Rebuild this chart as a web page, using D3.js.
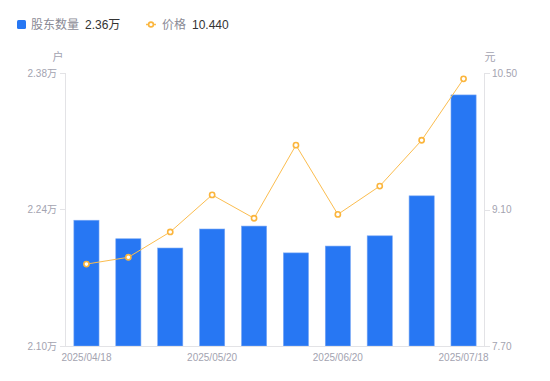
<!DOCTYPE html>
<html><head><meta charset="utf-8">
<script src="https://cdn.jsdelivr.net/npm/d3@7/dist/d3.min.js"></script>
<style>body{margin:0;background:#fff;} svg{font-family:"Liberation Sans","Noto Sans CJK SC",sans-serif;}</style>
</head><body><svg id="c" width="550" height="381"></svg>
<script>
const dates = ["2025/04/18","2025/04/30","2025/05/09","2025/05/20","2025/05/30","2025/06/10","2025/06/20","2025/06/30","2025/07/10","2025/07/18"];
const holders = [2.229, 2.210, 2.2005, 2.220, 2.223, 2.1955, 2.2025, 2.213, 2.254, 2.3575];
const prices = [8.54, 8.61, 8.87, 9.25, 9.01, 9.76, 9.05, 9.34, 9.81, 10.44];
const leftTicks = [2.10, 2.24, 2.38];
const rightTicks = [7.70, 9.10, 10.50];
const shownDates = ["2025/04/18","2025/05/20","2025/06/20","2025/07/18"];

const svg = d3.select("#c");
const L = 65.5, R = 484.5, T = 73, B = 346;
const x = d3.scaleBand().domain(dates).range([L, R]).paddingInner(0.4).paddingOuter(0.2);
const yL = d3.scaleLinear().domain([2.10, 2.38]).range([B, T]);
const yR = d3.scaleLinear().domain([7.70, 10.50]).range([B, T]);
const axisCol = "#e3e3e6", tickTxt = "#a3a3b0";

svg.append("line").attr("x1", L).attr("x2", L).attr("y1", T).attr("y2", B).attr("stroke", axisCol);
svg.append("line").attr("x1", R).attr("x2", R).attr("y1", T).attr("y2", B).attr("stroke", axisCol);

svg.append("g").selectAll("rect").data(dates).join("rect")
  .attr("x", d => x(d)).attr("width", x.bandwidth())
  .attr("y", (d,i) => yL(holders[i])).attr("height", (d,i) => B - yL(holders[i]))
  .attr("fill", "#2777f3").attr("stroke", "#7aa8f5").attr("stroke-width", 0.6);

svg.append("line").attr("x1", 60).attr("x2", 490).attr("y1", B + 0.5).attr("y2", B + 0.5).attr("stroke", axisCol);

const gl = svg.append("g");
leftTicks.forEach(t => {
  gl.append("line").attr("x1", 60).attr("x2", L).attr("y1", Math.round(yL(t))+0.5).attr("y2", Math.round(yL(t))+0.5).attr("stroke", axisCol);
  gl.append("text").attr("x", 57).attr("y", yL(t)).attr("dy", "0.35em").attr("text-anchor", "end")
    .attr("font-size", 10).attr("fill", tickTxt).text(t.toFixed(2) + "万");
});
const gr = svg.append("g");
rightTicks.forEach(t => {
  gr.append("line").attr("x1", R).attr("x2", 490).attr("y1", Math.round(yR(t))+0.5).attr("y2", Math.round(yR(t))+0.5).attr("stroke", axisCol);
  gr.append("text").attr("x", 492).attr("y", yR(t)).attr("dy", "0.35em").attr("text-anchor", "start")
    .attr("font-size", 10).attr("fill", tickTxt).text(t.toFixed(2));
});
svg.append("text").attr("x", 58).attr("y", 61).attr("text-anchor", "middle").attr("font-size", 11).attr("fill", tickTxt).text("户");
svg.append("text").attr("x", 490).attr("y", 61).attr("text-anchor", "middle").attr("font-size", 11).attr("fill", tickTxt).text("元");

svg.append("g").selectAll("text").data(shownDates).join("text")
  .attr("x", d => x(d) + x.bandwidth()/2).attr("y", 361).attr("text-anchor", "middle")
  .attr("font-size", 10).attr("fill", tickTxt).text(d => d);

const cx = (d) => x(d) + x.bandwidth()/2;
const line = d3.line().x((d,i) => cx(dates[i])).y(d => yR(d));
svg.append("path").datum(prices).attr("d", line).attr("fill", "none").attr("stroke", "#fbbd4f").attr("stroke-width", 1);
svg.append("g").selectAll("circle").data(prices).join("circle")
  .attr("cx", (d,i) => cx(dates[i])).attr("cy", d => yR(d)).attr("r", 2.6)
  .attr("fill", "#fff").attr("stroke", "#fbb53c").attr("stroke-width", 1.6);

svg.append("rect").attr("x", 17).attr("y", 20).attr("width", 9).attr("height", 9).attr("rx", 1.5).attr("fill", "#2777f3");
svg.append("text").attr("x", 31).attr("y", 29).attr("font-size", 12).attr("fill", "#8a8a95").text("股东数量");
svg.append("text").attr("x", 85).attr("y", 29).attr("font-size", 12).attr("fill", "#333").text("2.36万");
svg.append("line").attr("x1", 146).attr("x2", 156).attr("y1", 24.5).attr("y2", 24.5).attr("stroke", "#fbbd4f").attr("stroke-width", 1.5);
svg.append("circle").attr("cx", 151).attr("cy", 24.5).attr("r", 2.4).attr("fill", "#fff").attr("stroke", "#fbb53c").attr("stroke-width", 1.6);
svg.append("text").attr("x", 162).attr("y", 29).attr("font-size", 12).attr("fill", "#8a8a95").text("价格");
svg.append("text").attr("x", 192).attr("y", 29).attr("font-size", 12).attr("fill", "#333").text("10.440");
</script></body></html>
